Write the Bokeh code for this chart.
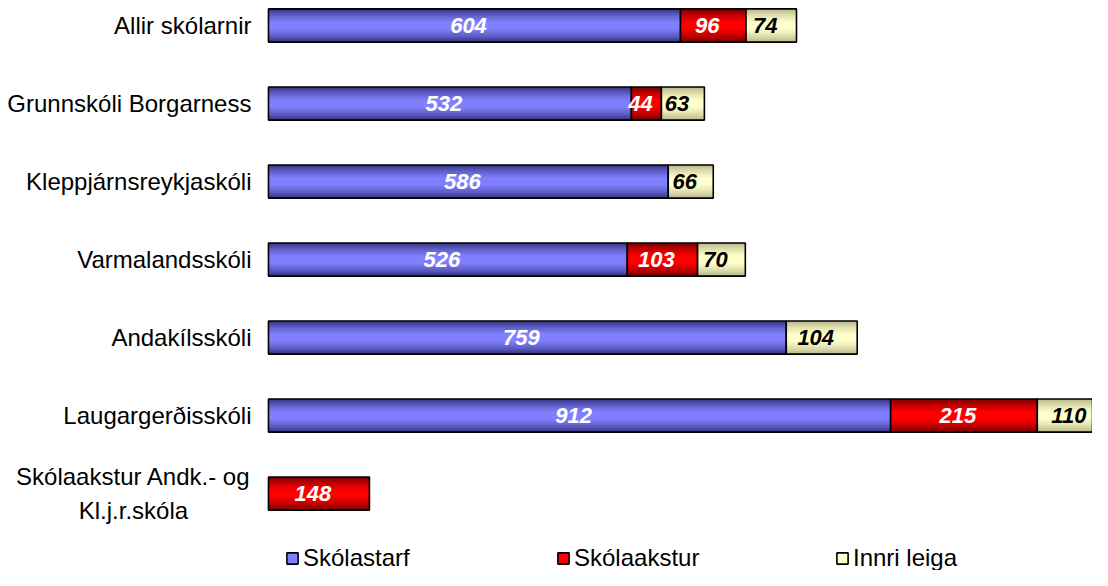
from bokeh.plotting import figure
from bokeh.models import ColumnDataSource, Range1d, Legend, LegendItem
from bokeh.core.properties import value
from bokeh.embed import file_html
from bokeh.resources import INLINE

# ---- data ----
categories = ["Allir skólarnir", "Grunnskóli Borgarness", "Kleppjárnsreykjaskóli",
              "Varmalandsskóli", "Andakílsskóli", "Laugargerðisskóli",
              "Skólaakstur Andk.- og\nKl.j.r.skóla"]
skolastarf = [604, 532, 586, 526, 759, 912, 0]
skolaakstur = [96, 44, 0, 103, 0, 215, 148]
innri_leiga = [74, 63, 66, 70, 104, 110, 0]
series_names = ["Skólastarf", "Skólaakstur", "Innri leiga"]

# ---- styles ----
FONT = "Liberation Sans"
dark_light = [((45, 45, 115), (128, 128, 255)),
              ((105, 0, 0), (255, 0, 0)),
              ((175, 175, 130), (255, 255, 204))]
label_colors = ["white", "white", "black"]
BAR_H = 0.425
N_LAYERS = 12

p = figure(width=1092, height=570, output_backend="svg", toolbar_location=None,
           x_range=Range1d(-392.8, 1207.9), y_range=Range1d(6.987, -0.3205),
           min_border_left=0, min_border_right=0, min_border_top=0, min_border_bottom=0)
p.axis.visible = False
p.grid.visible = False
p.outline_line_color = None
p.background_fill_color = "white"

# category labels (left of the bars)
idx = list(range(len(categories)))
single = [i for i in idx if "\n" not in categories[i]]
multi = [i for i in idx if "\n" in categories[i]]
cat_single = ColumnDataSource(dict(x=[0] * len(single), y=single,
                                   t=[categories[i] for i in single]))
cat_multi = ColumnDataSource(dict(x=[0] * len(multi), y=multi,
                                  t=[categories[i] for i in multi]))
p.text(x="x", y="y", text="t", source=cat_single, x_offset=-17,
       text_align="right", text_baseline="middle", text_font=value(FONT),
       text_font_size="24px", text_color="black")
p.text(x="x", y="y", text="t", source=cat_multi, x_offset=-135,
       text_align="center", text_baseline="middle", text_font=value(FONT),
       text_font_size="24px", text_color="black", text_line_height=1.25)

def hexcol(c1, c2, t):
    return "#%02x%02x%02x" % tuple(int(round(a + (b - a) * t)) for a, b in zip(c1, c2))

series = [skolastarf, skolaakstur, innri_leiga]
left = [0] * len(categories)
legend_items = []
for si, vals in enumerate(series):
    ys, l, r, txt = [], [], [], []
    for i, v in enumerate(vals):
        if v > 0:
            ys.append(i)
            l.append(left[i])
            r.append(left[i] + v)
            txt.append(str(v))
        left[i] += v
    src = ColumnDataSource(dict(y=ys, left=l, right=r, txt=txt,
                                mid=[(a + b) / 2 for a, b in zip(l, r)]))
    dark, light = dark_light[si]
    lastr = None
    for k in range(N_LAYERS):
        t = (k / (N_LAYERS - 1)) ** 0.65
        h = BAR_H * (1 - 0.85 * k / N_LAYERS)
        lastr = p.hbar(y="y", left="left", right="right", height=h, source=src,
                       fill_color=hexcol(dark, light, t), line_color=None)
    outline = p.hbar(y="y", left="left", right="right", height=BAR_H, source=src,
                     fill_color=None, line_color="black", line_width=1.6)
    p.text(x="mid", y="y", text="txt", source=src, x_offset=-6, text_font=value(FONT),
           text_font_size="22px", text_font_style="bold italic",
           text_color=label_colors[si], text_align="center", text_baseline="middle")
    legend_items.append((series_names[si], [lastr, outline]))

leg_x = [285, 556, 835]
for (name, rends), lx in zip(legend_items, leg_x):
    lg = Legend(items=[LegendItem(label=name, renderers=rends)],
                location=(lx, -2), orientation="horizontal",
                border_line_color=None, background_fill_alpha=0,
                padding=0, margin=0, glyph_width=14, glyph_height=14,
                label_standoff=4, label_text_font=FONT, label_text_font_size="24px",
                label_text_color="black", label_height=24)
    p.add_layout(lg, "center")

open("out.html", "w").write(file_html(p, INLINE))
